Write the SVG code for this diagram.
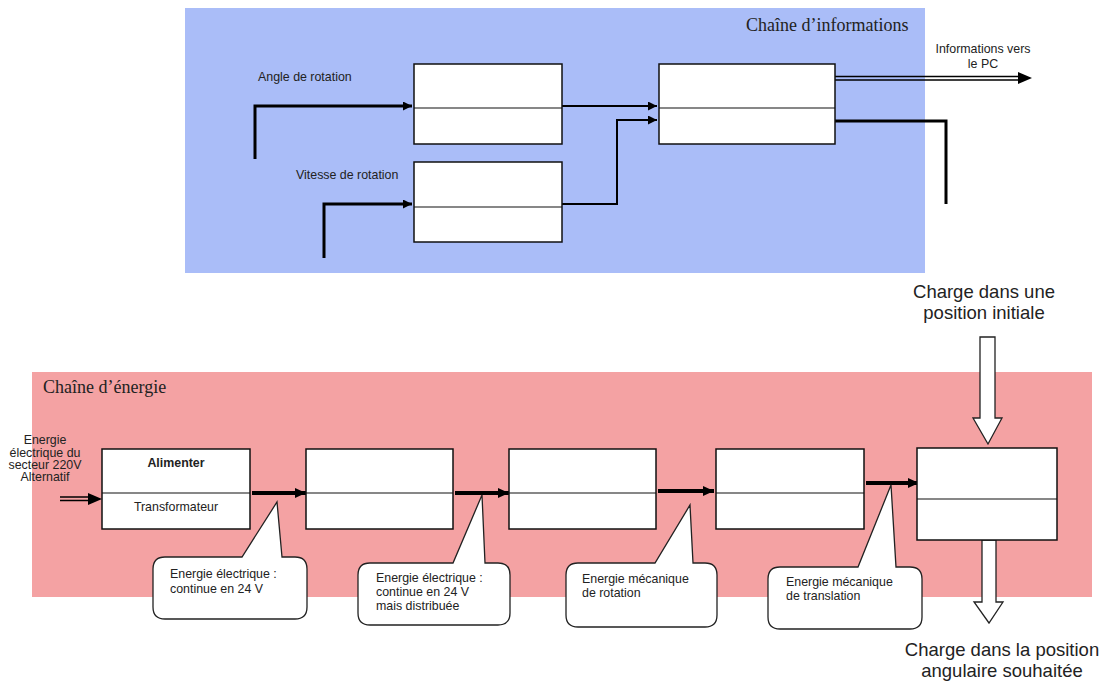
<svg xmlns="http://www.w3.org/2000/svg" width="1107" height="682" viewBox="0 0 1107 682">
<defs>
<style>
.box{fill:#fff;stroke:#111;stroke-width:1.5}
.div{stroke:#111;stroke-width:1.2}
.t{font-family:"Liberation Sans",Arial,sans-serif;font-size:12.4px;fill:#222}
.ser{font-family:"Liberation Serif","Times New Roman",serif;font-size:18px;fill:#222}
.big{font-family:"Liberation Sans",Arial,sans-serif;font-size:18.5px;fill:#222;text-anchor:middle}
.w3{fill:none;stroke:#000;stroke-width:3}
.w2{fill:none;stroke:#000;stroke-width:2}
.w4{fill:none;stroke:#000;stroke-width:4}
.call{fill:#fff;stroke:#222;stroke-width:1.3}
.hollow{fill:#fff;stroke:#222;stroke-width:1.3}
</style>
<marker id="ah" markerUnits="userSpaceOnUse" markerWidth="12" markerHeight="10" refX="11" refY="5" orient="auto">
<path d="M0,0 L11,5 L0,10 Z" fill="#000"/>
</marker>
<marker id="ahs" markerUnits="userSpaceOnUse" markerWidth="10" markerHeight="9" refX="9" refY="4.5" orient="auto">
<path d="M0,0 L9,4.5 L0,9 Z" fill="#000"/>
</marker>
</defs>
<rect x="0" y="0" width="1107" height="682" fill="#fff"/>
<g id="info-chain">
<rect x="185" y="8" width="740" height="265" fill="#aabdf8"/>
<text class="ser" x="746" y="31">Chaîne d’informations</text>
</g>
<g id="energy-chain">
<rect x="32" y="372" width="1060" height="225" fill="#f4a2a3"/>
<text class="ser" x="43" y="393">Chaîne d’énergie</text>
</g>
<g id="connectors">
<path class="w3" d="M255,159 V106 H412" marker-end="url(#ahs)"/>
<path class="w3" d="M324,258 V204 H412" marker-end="url(#ahs)"/>
<path class="w2" d="M562,106 H657" marker-end="url(#ahs)"/>
<path class="w2" d="M562,204 H617 V120 H657" marker-end="url(#ahs)"/>
<path class="w3" d="M835,121 H946 V204"/>
<path fill="none" stroke="#000" stroke-width="1.5" d="M835,76.5 H1020 M835,80 H1020"/>
<path d="M1018,72 L1032,78 L1018,84 Z" fill="#000"/>
<path fill="none" stroke="#000" stroke-width="1.5" d="M60,497 H92 M60,500.5 H92"/>
<path d="M88,493 L102,499 L88,505 Z" fill="#000"/>
<path class="w4" d="M252,493 H306" marker-end="url(#ah)"/>
<path class="w4" d="M455,493 H509" marker-end="url(#ah)"/>
<path class="w4" d="M658,491 H714" marker-end="url(#ah)"/>
<path class="w4" d="M866,483 H919" marker-end="url(#ah)"/>
<polygon class="hollow" points="980,337 995,337 995,418 1002,418 988,444 973,418 980,418"/>
<polygon class="hollow" points="982,540 996,540 996,602 1003,602 989,623 974,602 982,602"/>
</g>
<g id="box-angle"><rect class="box" x="414" y="64" width="148" height="80"/><line class="div" x1="414" y1="108" x2="562" y2="108"/></g>
<g id="box-vitesse"><rect class="box" x="414" y="162" width="148" height="80"/><line class="div" x1="414" y1="207" x2="562" y2="207"/></g>
<g id="box-traiter"><rect class="box" x="659" y="64" width="176" height="80"/><line class="div" x1="659" y1="108" x2="835" y2="108"/></g>
<g id="box-alimenter"><rect class="box" x="102" y="449" width="148" height="80"/><line class="div" x1="102" y1="493" x2="250" y2="493"/>
<text class="t" x="176" y="467" text-anchor="middle" font-weight="bold">Alimenter</text>
<text class="t" x="176" y="511" text-anchor="middle">Transformateur</text></g>
<g id="box-distribuer"><rect class="box" x="306" y="449" width="147" height="80"/><line class="div" x1="306" y1="493" x2="453" y2="493"/></g>
<g id="box-convertir"><rect class="box" x="509" y="449" width="147" height="80"/><line class="div" x1="509" y1="493" x2="656" y2="493"/></g>
<g id="box-transmettre"><rect class="box" x="716" y="449" width="148" height="80"/><line class="div" x1="716" y1="493" x2="864" y2="493"/></g>
<g id="box-agir"><rect class="box" x="917" y="448" width="140" height="92"/><line class="div" x1="917" y1="499" x2="1057" y2="499"/></g>
<g id="labels">
<text class="t" x="258" y="81">Angle de rotation</text>
<text class="t" x="296" y="179">Vitesse de rotation</text>
<text class="t" text-anchor="middle"><tspan x="983" y="53">Informations vers</tspan><tspan x="983" y="68">le PC</tspan></text>
<text class="t" text-anchor="middle"><tspan x="45" y="444">Energie</tspan><tspan x="45" y="457">électrique du</tspan><tspan x="45" y="469">secteur 220V</tspan><tspan x="45" y="481">Alternatif</tspan></text>
<text class="big"><tspan x="984" y="298">Charge dans une</tspan><tspan x="984" y="319">position initiale</tspan></text>
<text class="big"><tspan x="1002" y="656">Charge dans la position</tspan><tspan x="1002" y="677">angulaire souhaitée</tspan></text>
</g>
<g id="callout-1">
<path class="call" d="M165,557 L242,557 L277,502 L282,557 L295,557 Q307,557 307,569 L307,607 Q307,619 295,619 L165,619 Q153,619 153,607 L153,569 Q153,557 165,557 Z"/>
<text class="t"><tspan x="170" y="578">Energie électrique :</tspan><tspan x="170" y="593">continue en 24 V</tspan></text>
</g>
<g id="callout-2">
<path class="call" d="M370,563 L453,563 L482,495 L485,563 L498,563 Q510,563 510,575 L510,613 Q510,625 498,625 L370,625 Q358,625 358,613 L358,575 Q358,563 370,563 Z"/>
<text class="t"><tspan x="376" y="582">Energie électrique :</tspan><tspan x="376" y="596">continue en 24 V</tspan><tspan x="376" y="610">mais distribuée</tspan></text>
</g>
<g id="callout-3">
<path class="call" d="M578,563 L655,563 L690,505 L693,563 L705,563 Q717,563 717,575 L717,615 Q717,627 705,627 L578,627 Q566,627 566,615 L566,575 Q566,563 578,563 Z"/>
<text class="t"><tspan x="582" y="583">Energie mécanique</tspan><tspan x="582" y="597">de rotation</tspan></text>
</g>
<g id="callout-4">
<path class="call" d="M780,567 L858,567 L891,485 L896,567 L910,567 Q922,567 922,579 L922,617 Q922,629 910,629 L780,629 Q768,629 768,617 L768,579 Q768,567 780,567 Z"/>
<text class="t"><tspan x="786" y="586">Energie mécanique</tspan><tspan x="786" y="600">de translation</tspan></text>
</g>
</svg>
